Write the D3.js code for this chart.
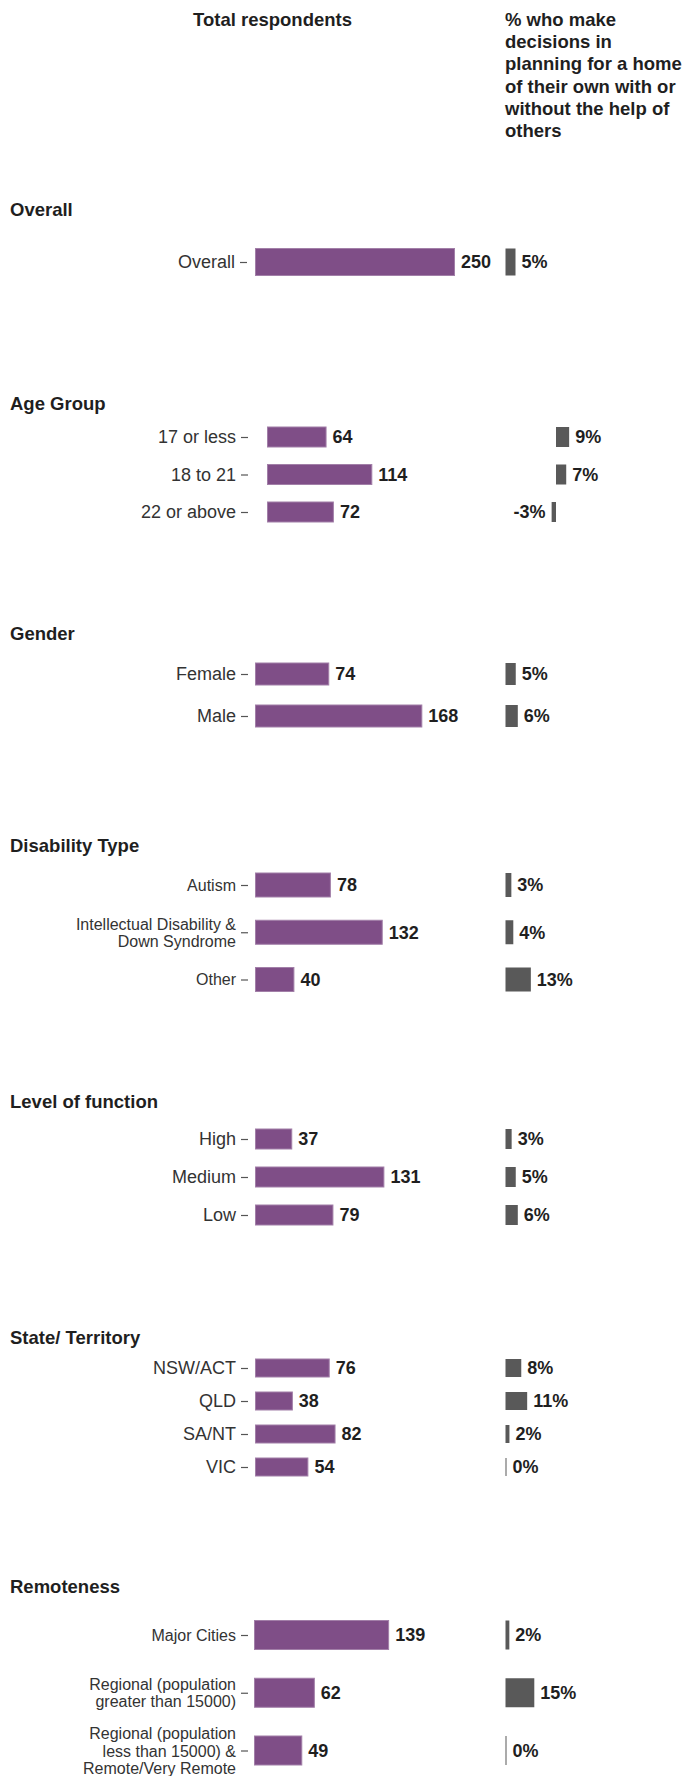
<!DOCTYPE html>
<html>
<head>
<meta charset="utf-8">
<script src="https://cdn.jsdelivr.net/npm/d3@7"></script>
<style>
  html, body { margin: 0; padding: 0; background: #fff; }
  svg { display: block; font-family: "Liberation Sans", Arial, sans-serif; }
  .tick line { stroke: #555; }
</style>
</head>
<body>
<svg id="chart" width="688" height="1776"></svg>
<script>
// ---- data ----
const overallCats   = ["Overall"];
const overallTotal  = [250];
const overallPct    = [5];

const ageCats       = ["17 or less", "18 to 21", "22 or above"];
const ageTotal      = [64, 114, 72];
const agePct        = [9, 7, -3];

const genderCats    = ["Female", "Male"];
const genderTotal   = [74, 168];
const genderPct     = [5, 6];

const disabilityCats  = ["Autism", "Intellectual Disability &\nDown Syndrome", "Other"];
const disabilityTotal = [78, 132, 40];
const disabilityPct   = [3, 4, 13];

const functionCats  = ["High", "Medium", "Low"];
const functionTotal = [37, 131, 79];
const functionPct   = [3, 5, 6];

const stateCats     = ["NSW/ACT", "QLD", "SA/NT", "VIC"];
const stateTotal    = [76, 38, 82, 54];
const statePct      = [8, 11, 2, 0];

const remoteCats    = ["Major Cities", "Regional (population\ngreater than 15000)", "Regional (population\nless than 15000) &\nRemote/Very Remote"];
const remoteTotal   = [139, 62, 49];
const remotePct     = [2, 15, 0];

const leftHeader  = "Total respondents";
const rightHeader = ["% who make", "decisions in", "planning for a home", "of their own with or", "without the help of", "others"];

// ---- panel layout: each block has its own pair of axes ----
const panels = [
  { title: "Overall",          cats: overallCats,    total: overallTotal,    pct: overallPct,
    titleY: 210,  rowY: [262, 262],   barH: 27, lx0: 255, lspan: 79.6, rx0: 505.5, rspan: 20.0,
    labelSize: 18, axisX: 247, pad: 5 },
  { title: "Age Group",        cats: ageCats,        total: ageTotal,        pct: agePct,
    titleY: 404,  rowY: [437, 512],   barH: 20, lx0: 267, lspan: 91.5, rx0: 556,   rspan: 14.6,
    labelSize: 18, axisX: 248, pad: 5 },
  { title: "Gender",           cats: genderCats,     total: genderTotal,     pct: genderPct,
    titleY: 633.5, rowY: [674, 716], barH: 22, lx0: 255, lspan: 99.0, rx0: 505.5, rspan: 20.5,
    labelSize: 18, axisX: 248, pad: 5 },
  { title: "Disability Type",  cats: disabilityCats, total: disabilityTotal, pct: disabilityPct,
    titleY: 846,  rowY: [885, 979.5], barH: 24, lx0: 255, lspan: 96.0, rx0: 505.5, rspan: 19.5,
    labelSize: 16, axisX: 248, pad: 5 },
  { title: "Level of function", cats: functionCats,  total: functionTotal,   pct: functionPct,
    titleY: 1102, rowY: [1139, 1215], barH: 20, lx0: 255, lspan: 98.0, rx0: 505.5, rspan: 20.5,
    labelSize: 18, axisX: 248, pad: 5 },
  { title: "State/ Territory", cats: stateCats,      total: stateTotal,      pct: statePct,
    titleY: 1337.5, rowY: [1368, 1467], barH: 18, lx0: 255, lspan: 97.0, rx0: 505.5, rspan: 19.7,
    labelSize: 18, axisX: 248, pad: 5 },
  { title: "Remoteness",       cats: remoteCats,     total: remoteTotal,     pct: remotePct,
    titleY: 1587, rowY: [1635, 1750.5], barH: 29, lx0: 254, lspan: 96.5, rx0: 505.5, rspan: 19.2,
    labelSize: 16, axisX: 248, pad: 5 }
];

const PURPLE = "#7f4e87";
const PURPLE_EDGE = "#a27fa8";
const GREY = "#595959";
const TEXT = "#333";
const TEXT_DARK = "#1f1f1f";

const svg = d3.select("#chart");

// column headers
svg.append("text")
  .attr("x", 193).attr("y", 26)
  .attr("font-size", 18.5).attr("font-weight", "bold").attr("fill", TEXT_DARK)
  .text(leftHeader);

svg.append("text")
  .attr("x", 505).attr("y", 26)
  .attr("font-size", 18.5).attr("font-weight", "bold").attr("fill", TEXT_DARK)
  .selectAll("tspan").data(rightHeader).join("tspan")
  .attr("x", 505).attr("dy", (d, i) => i === 0 ? 0 : 22.2)
  .text(d => d);

panels.forEach(p => {
  const g = svg.append("g");

  g.append("text")
    .attr("x", 10).attr("y", p.titleY).attr("dy", "0.35em")
    .attr("font-size", 18.5).attr("font-weight", "bold").attr("fill", TEXT_DARK)
    .text(p.title);

  const y = d3.scalePoint().domain(p.cats).range(p.rowY);
  const lx = d3.scaleLinear().domain([0, 100]).range([p.lx0, p.lx0 + p.lspan]);
  const rx = d3.scaleLinear().domain([0, 10]).range([p.rx0, p.rx0 + p.rspan]);

  const rows = p.cats.map((c, i) => ({ cat: c, total: p.total[i], pct: p.pct[i] }));

  // category axis
  const ax = g.append("g")
    .attr("transform", `translate(${p.axisX},0)`)
    .call(d3.axisLeft(y).tickSize(7).tickPadding(p.pad));
  ax.select(".domain").remove();
  ax.selectAll(".tick line").attr("stroke", "#444").attr("stroke-width", 1.2);
  ax.selectAll(".tick text")
    .attr("font-size", p.labelSize)
    .attr("font-family", "\"Liberation Sans\", Arial, sans-serif")
    .attr("fill", TEXT)
    .each(function(d) {
      const lines = d.split("\n");
      if (lines.length === 1) return;
      const t = d3.select(this).text(null).attr("dy", null);
      const lh = p.labelSize * 1.07;
      const start = -(lines.length - 1) * lh / 2;
      lines.forEach((ln, k) => {
        t.append("tspan").attr("x", -(7 + p.pad))
          .attr("dy", k === 0 ? (start + p.labelSize * 0.35) : lh)
          .text(ln);
      });
    });

  // total respondents bars
  g.selectAll(".lbar").data(rows).join("rect")
    .attr("x", lx(0) + 0.5)
    .attr("y", d => y(d.cat) - p.barH / 2)
    .attr("width", d => lx(d.total) - lx(0))
    .attr("height", p.barH)
    .attr("fill", PURPLE)
    .attr("stroke", PURPLE_EDGE).attr("stroke-width", 1);

  g.selectAll(".lval").data(rows).join("text")
    .attr("x", d => lx(d.total) + 7)
    .attr("y", d => y(d.cat)).attr("dy", "0.35em")
    .attr("font-size", 18).attr("font-weight", "bold").attr("fill", TEXT_DARK)
    .text(d => d.total);

  // percentage bars
  g.selectAll(".rbar").data(rows).join("rect")
    .attr("x", d => Math.min(rx(0), rx(d.pct)))
    .attr("y", d => y(d.cat) - p.barH / 2)
    .attr("width", d => Math.max(1, Math.abs(rx(d.pct) - rx(0))))
    .attr("height", p.barH)
    .attr("fill", GREY);

  g.selectAll(".rval").data(rows).join("text")
    .attr("x", d => d.pct < 0 ? rx(d.pct) - 6 : Math.max(rx(d.pct), rx(0) + 1) + 6)
    .attr("text-anchor", d => d.pct < 0 ? "end" : "start")
    .attr("y", d => y(d.cat)).attr("dy", "0.35em")
    .attr("font-size", 18).attr("font-weight", "bold").attr("fill", TEXT_DARK)
    .text(d => d.pct + "%");
});
</script>
</body>
</html>
